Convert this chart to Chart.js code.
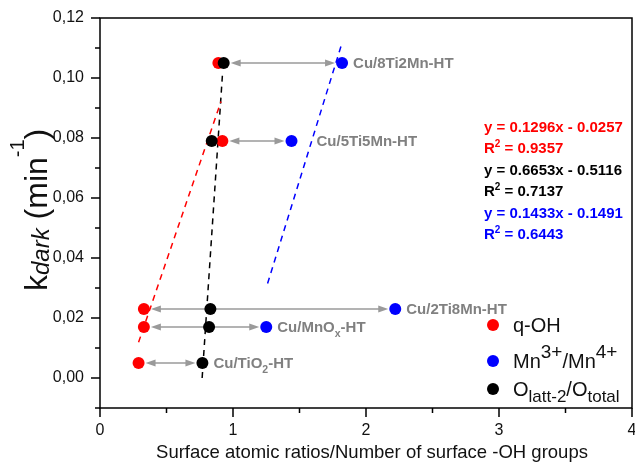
<!DOCTYPE html>
<html lang="en">
<head>
  <meta charset="UTF-8">
  <title>k dark vs surface ratios</title>
  <script src="https://cdn.jsdelivr.net/npm/chart.js"></script>
  <style>
    body { margin: 0; background: #fff; }
    #wrap { width: 635px; height: 462px; position: relative; }
  </style>
</head>
<body>
  <div id="wrap"><canvas id="myChart"></canvas></div>

  <script>
    // data
    const samples = ['Cu/8Ti2Mn-HT', 'Cu/5Ti5Mn-HT', 'Cu/2Ti8Mn-HT', 'Cu/MnOx-HT', 'Cu/TiO2-HT'];
    const kDark = [0.105, 0.079, 0.023, 0.017, 0.005];
    const qOH = [0.89, 0.92, 0.33, 0.33, 0.29];
    const mnRatio = [1.82, 1.44, 2.22, 1.25, null];
    const oLatt = [0.93, 0.84, 0.83, 0.82, 0.77];

    // arrows go from one series to another on the same row
    const arrowStart = ['oLatt', 'qOH', 'qOH', 'qOH', 'qOH'];
    const arrowEnd = ['mn', 'mn', 'mn', 'mn', 'oLatt'];

    // linear fits (dashed), end points
    const redFitX = [0.29, 0.91];
    const redFitY = [0.0119, 0.0922];
    const blackFitX = [0.768, 0.922];
    const blackFitY = [0.0, 0.102];
    const blueFitX = [1.26, 1.82];
    const blueFitY = [0.0315, 0.1117];

    const fitEq = ['y = 0.1296x - 0.0257', 'y = 0.6653x - 0.5116', 'y = 0.1433x - 0.1491'];
    const fitR2 = ['0.9357', '0.7137', '0.6443'];

    const xTicks = [0, 1, 2, 3, 4];
    const yTicks = [0, 0.02, 0.04, 0.06, 0.08, 0.10, 0.12];

    const RED = '#ff0000', BLUE = '#0000ff', BLACK = '#000000', GREY = '#808080';
    const FONT = "'Liberation Sans', Arial, sans-serif";
    const series = { qOH: qOH, mn: mnRatio, oLatt: oLatt };

    const pts = arr => arr.map((x, i) => x == null ? null : { x: x, y: kDark[i] }).filter(p => p);
    const line = (xs, ys) => xs.map((x, i) => ({ x: x, y: ys[i] }));

    // text with sub / superscripts
    function drawRich(ctx, x, y, parts, size, weight, color) {
      ctx.fillStyle = color;
      ctx.textAlign = 'left';
      ctx.textBaseline = 'alphabetic';
      parts.forEach(p => {
        const s = p.size || ((p.sub || p.sup) ? size * 0.7 : size);
        ctx.font = (p.italic ? 'italic ' : '') + weight + ' ' + s + 'px ' + FONT;
        let dy = 0;
        if (p.sub) dy = size * 0.3;
        if (p.sup) dy = -size * 0.45;
        if (p.dy != null) dy = p.dy;
        ctx.fillText(p.t, x, y + dy);
        x += ctx.measureText(p.t).width;
      });
      return x;
    }

    function labelParts(name) {
      if (name === 'Cu/MnOx-HT') return [{ t: 'Cu/MnO' }, { t: 'x', sub: true }, { t: '-HT' }];
      if (name === 'Cu/TiO2-HT') return [{ t: 'Cu/TiO' }, { t: '2', sub: true }, { t: '-HT' }];
      return [{ t: name }];
    }

    function arrow(ctx, x1, x2, y) {
      const hl = 10, hw = 3.5;
      ctx.save();
      ctx.strokeStyle = '#9a9a9a';
      ctx.fillStyle = '#9a9a9a';
      ctx.lineWidth = 1.5;
      ctx.beginPath();
      ctx.moveTo(x1 + hl - 2, y);
      ctx.lineTo(x2 - hl + 2, y);
      ctx.stroke();
      ctx.beginPath();
      ctx.moveTo(x1, y); ctx.lineTo(x1 + hl, y - hw); ctx.lineTo(x1 + hl, y + hw); ctx.closePath();
      ctx.fill();
      ctx.beginPath();
      ctx.moveTo(x2, y); ctx.lineTo(x2 - hl, y - hw); ctx.lineTo(x2 - hl, y + hw); ctx.closePath();
      ctx.fill();
      ctx.restore();
    }

    const decor = {
      id: 'decor',
      beforeDatasetsDraw(chart) {
        const ctx = chart.ctx, xs = chart.scales.x, ys = chart.scales.y;
        const r = 6;
        kDark.forEach((k, i) => {
          const a = series[arrowStart[i]][i], b = series[arrowEnd[i]][i];
          if (a == null || b == null) return;
          arrow(ctx, xs.getPixelForValue(a) + r + 1, xs.getPixelForValue(b) - r - 1, ys.getPixelForValue(k));
        });
      },
      afterDraw(chart) {
        const ctx = chart.ctx, xs = chart.scales.x, ys = chart.scales.y;
        const ca = chart.chartArea;
        ctx.save();

        // frame
        ctx.strokeStyle = '#000';
        ctx.lineWidth = 1.5;
        ctx.strokeRect(ca.left, ca.top, ca.right - ca.left, ca.bottom - ca.top);

        // ticks, outward
        ctx.beginPath();
        ys.ticks.forEach(t => {
          const y = ys.getPixelForValue(t.value);
          const major = t.label !== '';
          ctx.moveTo(ca.left, y);
          ctx.lineTo(ca.left - (major ? 9 : 5), y);
        });
        xs.ticks.forEach(t => {
          const x = xs.getPixelForValue(t.value);
          const major = t.label !== '';
          ctx.moveTo(x, ca.bottom);
          ctx.lineTo(x, ca.bottom + (major ? 9 : 5));
        });
        ctx.stroke();

        // sample labels next to the right-most point of each row
        samples.forEach((name, i) => {
          const xv = series[arrowEnd[i]][i];
          const dx = name === 'Cu/5Ti5Mn-HT' ? 25 : 11;
          drawRich(ctx, xs.getPixelForValue(xv) + dx, ys.getPixelForValue(kDark[i]) + 5,
            labelParts(name), 15, 'bold', GREY);
        });

        // fit equations
        const eqCol = [RED, BLACK, BLUE];
        fitEq.forEach((eq, i) => {
          const y0 = 132 + i * 43;
          drawRich(ctx, 484, y0, [{ t: eq }], 15, 'bold', eqCol[i]);
          drawRich(ctx, 484, y0 + 21, [{ t: 'R' }, { t: '2', sup: true, size: 10, dy: -6 }, { t: ' = ' + fitR2[i] }], 15, 'bold', eqCol[i]);
        });

        // legend
        const leg = [
          { c: RED, parts: [{ t: 'q-OH' }], y: 325 },
          { c: BLUE, parts: [{ t: 'Mn' }, { t: '3+', sup: true, size: 19, dy: -10 }, { t: '/Mn' }, { t: '4+', sup: true, size: 19, dy: -10 }], y: 361 },
          { c: BLACK, parts: [{ t: 'O' }, { t: 'latt-2', sub: true, size: 17, dy: 6 }, { t: '/O', size: 20 }, { t: 'total', sub: true, size: 17, dy: 6 }], y: 389 }
        ];
        leg.forEach(l => {
          ctx.fillStyle = l.c;
          ctx.beginPath();
          ctx.arc(493, l.y, 6, 0, Math.PI * 2);
          ctx.fill();
          drawRich(ctx, 513, l.y + 7, l.parts, 20, 'normal', '#111');
        });

        // axis titles
        ctx.fillStyle = '#111';
        ctx.font = '18.5px ' + FONT;
        ctx.textAlign = 'center';
        ctx.textBaseline = 'alphabetic';
        ctx.fillText('Surface atomic ratios/Number of surface -OH groups', 372, 458);

        ctx.save();
        ctx.translate(47, 291);
        ctx.rotate(-Math.PI / 2);
        drawRich(ctx, 0, 0, [
          { t: 'k' },
          { t: 'dark', italic: true, size: 24, dy: 2 },
          { t: ' (min' },
          { t: '-1', sup: true, size: 20, dy: -23 },
          { t: ')' }
        ], 32, 'normal', '#111');
        ctx.restore();

        ctx.restore();
      }
    };

    const ctx = document.getElementById('myChart').getContext('2d');
    new Chart(ctx, {
      type: 'scatter',
      data: {
        datasets: [
          { label: 'fit q-OH', data: line(redFitX, redFitY), showLine: true, borderColor: RED, borderWidth: 1.5, borderDash: [6, 5], pointRadius: 0, order: 10 },
          { label: 'fit O', data: line(blackFitX, blackFitY), showLine: true, borderColor: BLACK, borderWidth: 1.5, borderDash: [6, 5], pointRadius: 0, order: 10 },
          { label: 'fit Mn', data: line(blueFitX, blueFitY), showLine: true, borderColor: BLUE, borderWidth: 1.5, borderDash: [6, 5], pointRadius: 0, order: 10 },
          { label: 'q-OH', data: pts(qOH), backgroundColor: RED, borderWidth: 0, pointRadius: 6, order: 3 },
          { label: 'Mn3+/Mn4+', data: pts(mnRatio), backgroundColor: BLUE, borderWidth: 0, pointRadius: 6, order: 2 },
          { label: 'Olatt-2/Ototal', data: pts(oLatt), backgroundColor: BLACK, borderWidth: 0, pointRadius: 6, order: 1 }
        ]
      },
      options: {
        responsive: true,
        maintainAspectRatio: false,
        animation: false,
        devicePixelRatio: 1,
        layout: { autoPadding: false, padding: { top: 18, right: 3, bottom: 0, left: 0 } },
        plugins: { legend: { display: false }, tooltip: { enabled: false } },
        scales: {
          x: {
            type: 'linear',
            min: 0, max: 4,
            grid: { display: false, drawTicks: false },
            border: { display: false },
            afterFit: s => { s.height = 54; s.paddingLeft = 0; s.paddingRight = 0; },
            ticks: {
              stepSize: 0.5,
              padding: 13,
              maxRotation: 0,
              autoSkip: false,
              color: '#111',
              font: { family: FONT, size: 16 },
              callback: v => xTicks.includes(v) ? String(v) : ''
            }
          },
          y: {
            type: 'linear',
            min: -0.01, max: 0.12,
            grid: { display: false, drawTicks: false },
            border: { display: false },
            afterFit: s => { s.width = 100; s.paddingTop = 0; s.paddingBottom = 0; },
            ticks: {
              stepSize: 0.01,
              padding: 16,
              autoSkip: false,
              color: '#111',
              font: { family: FONT, size: 16 },
              callback: v => {
                const hit = yTicks.find(t => Math.abs(t - v) < 1e-6);
                return hit == null ? '' : hit.toFixed(2).replace('.', ',');
              }
            }
          }
        }
      },
      plugins: [decor]
    });
  </script>
</body>
</html>
